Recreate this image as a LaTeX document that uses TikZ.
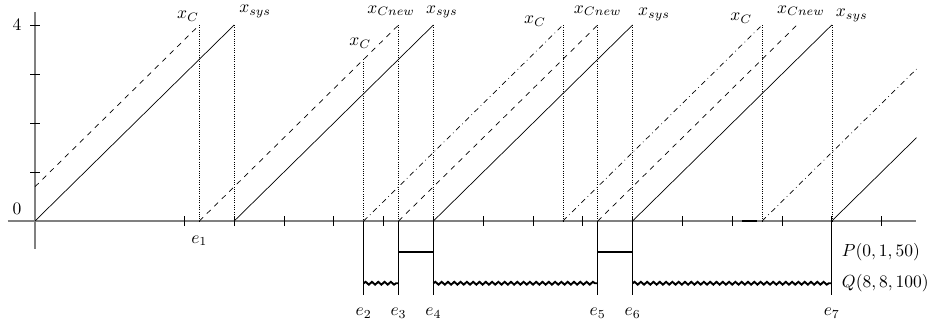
\documentclass[tikz,border=0pt]{standalone}
\usetikzlibrary{decorations.pathmorphing}
\tikzset{
  axis/.style={gray,line width=.8pt},
  guide/.style={densely dotted,line width=.3pt},
  ctrl/.style={dashed},
  ctrlold/.style={dash dot},
  busy/.style={line width=1.3pt},
  wait/.style={decorate,decoration={snake,amplitude=.8pt,segment length=3.6pt},line width=1.1pt},
}
\begin{document}
\begin{tikzpicture}[x=1cm,y=.984cm,line width=.4pt]
  \useasboundingbox (-.703,-2.102) rectangle (18.193,4.51);
  % axes and ticks
  \draw[axis] (-.55,0)--(17.7,0);
  \draw[axis] (0,-.57)--(0,4.26);
  \foreach \y in {1,...,4} \draw (-.1,\y)--(.1,\y);
  \foreach \x in {3,...,17} \draw (\x,-.1)--(\x,.1);
  \draw[line width=.8pt] (14.2,0)--(14.5,0);
  \node (zero) at (-.36,.24) {$0$};
  \node (four) at (-.36,4) {$4$};
  % events on the time axis
  \coordinate (e1) at (3.3,0);
  \coordinate (s1) at (4,0);
  \coordinate (e2) at (6.6,0);
  \coordinate (e3) at (7.3,0);
  \coordinate (e4) at (8,0);
  \coordinate (c3) at (10.6,0);
  \coordinate (e5) at (11.3,0);
  \coordinate (e6) at (12,0);
  \coordinate (c4) at (14.6,0);
  \coordinate (e7) at (16,0);
  \coordinate (p) at (0,-.63);
  \coordinate (q) at (0,-1.27);
  \coordinate (b) at (0,-1.5);
  % x_sys
  \draw (0,0)--(4,4);
  \draw (s1)--(8,4);
  \draw (e4)--(12,4);
  \draw (e6)--(16,4);
  \draw (e7)--(17.7,1.7);
  % x_C
  \draw[ctrl] (0,.7)--(3.3,4);
  \draw[ctrl] (e1)--(7.3,4);
  \draw[ctrl] (e3)--(11.3,4);
  \draw[ctrl] (e5)--(15.3,4);
  \draw[ctrlold] (e2)--(10.6,4);
  \draw[ctrlold] (c3)--(14.6,4);
  \draw[ctrlold] (c4)--(17.7,3.1);
  % guides
  \draw[guide] (3.3,4)--(e1);
  \draw[guide] (4,4)--(s1);
  \draw[guide] (6.6,3.3)--(e2);
  \draw[guide] (7.3,4)--(e3);
  \draw[guide] (8,4)--(e4);
  \draw[guide] (10.6,4)--(c3);
  \draw[guide] (11.3,4)--(e5);
  \draw[guide] (12,4)--(e6);
  \draw[guide] (14.6,4)--(c4);
  \draw[guide] (16,4)--(e7);
  % tasks
  \draw (e2)--(e2|-b);
  \draw (e3)--(e3|-b);
  \draw (e4)--(e4|-b);
  \draw (e5)--(e5|-b);
  \draw (e6)--(e6|-b);
  \draw (e7)--(e7|-b);
  \draw[busy] (e3|-p)--(e4|-p);
  \draw[busy] (e5|-p)--(e6|-p);
  \draw[wait] (e2|-q)--(e3|-q);
  \draw[wait] (e4|-q)--(e5|-q);
  \draw[wait] (e6|-q)--(e7|-q);
  \node[right] (plab) at (16.08,-.63) {$P(0,1,50)$};
  \node[right] (qlab) at (16.08,-1.27) {$Q(8,8,100)$};
  % labels
  \node (xc1) at (3.07,4.18) {$x_C$};
  \node (xs1) at (4.42,4.28) {$x_{sys}$};
  \node (xc2) at (6.53,3.63) {$x_C$};
  \node (xn2) at (7.15,4.29) {$x_{Cnew}$};
  \node (xs2) at (8.17,4.27) {$x_{sys}$};
  \node (xc3) at (10.04,4.08) {$x_C$};
  \node (xn3) at (11.3,4.29) {$x_{Cnew}$};
  \node (xs3) at (12.43,4.22) {$x_{sys}$};
  \node (xc4) at (14.18,4.14) {$x_C$};
  \node (xn4) at (15.38,4.29) {$x_{Cnew}$};
  \node (xs4) at (16.4,4.2) {$x_{sys}$};
  \node (le1) at (3.3,-.4) {$e_1$};
  \node (le2) at (6.6,-1.88) {$e_2$};
  \node (le3) at (7.3,-1.88) {$e_3$};
  \node (le4) at (8,-1.88) {$e_4$};
  \node (le5) at (11.3,-1.88) {$e_5$};
  \node (le6) at (12,-1.88) {$e_6$};
  \node (le7) at (16,-1.88) {$e_7$};
\end{tikzpicture}
\end{document}
